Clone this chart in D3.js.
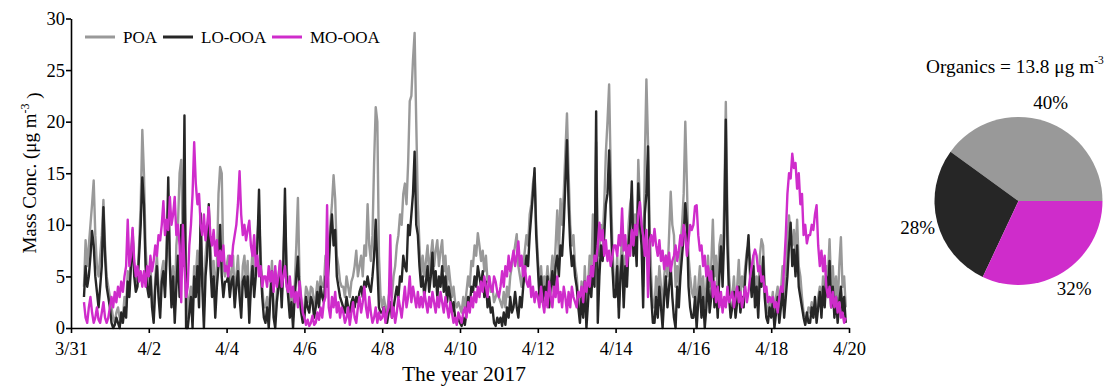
<!DOCTYPE html>
<html>
<head>
<meta charset="utf-8">
<script src="https://cdn.jsdelivr.net/npm/d3@7/dist/d3.min.js"></script>
<style>
  html, body { margin: 0; padding: 0; background: #fff; }
  svg, svg text { font-family: "Liberation Serif", "DejaVu Serif", "Times New Roman", Times, serif !important; }
</style>
</head>
<body>
<svg id="chart" width="1110" height="386"></svg>
<script>
// ---------------- DATA ----------------
// hourly samples starting 2017-03-31 08:00
const startTime = "2017-03-31T08:00:00Z";
const seriesNames = ["POA", "LO-OOA", "MO-OOA"];
const POA = [
  4, 8.5, 6, 8, 10, 12, 14.3, 9, 6, 5, 7, 9, 12.4, 8, 5, 4,
  3, 2, 1, 0.5, 1.5, 2, 1, 0.5, 1, 3, 2, 5.5, 4, 7, 9.5, 6, 4.5, 5, 8, 12, 19.2, 15, 8, 5,
  4, 6, 3, 1, 5, 7, 4, 2, 5.5, 6.5, 4, 8, 12, 7, 3, 6, 1.5, 8, 10, 15, 16.3, 8, 14, 5,
  1, 3, 4, 2, 6, 5, 7.5, 4, 10, 6, 2, 7, 9, 11, 8, 5, 6.5, 3, 6, 13, 15.6, 15, 6, 5,
  6, 7, 4, 5.5, 7, 3, 5, 7, 4, 2, 6, 7, 4, 6.5, 1.5, 5, 7.5, 4, 6, 9, 11, 7, 4, 2,
  2, 3, 1, 4, 6.5, 2, 1, 3.5, 5, 6.5, 3, 7, 11, 6, 4, 2, 3.5, 1, 4, 8, 12.6, 5, 2.5, 1.5,
  2, 4, 3.5, 2.5, 4, 3.8, 2, 3, 4.5, 3, 5, 4, 4, 7, 6, 8, 10, 12, 14.8, 12.5, 7, 6, 4.5, 4,
  4, 3, 5, 4, 3, 4.5, 5, 6, 7.5, 5, 6, 7, 5, 8, 7, 12, 8, 6.5, 9, 16, 21.4, 20, 7, 3,
  2, 3, 2, 1.5, 3, 4, 3, 5, 6, 8, 9, 11, 10, 13, 14, 12, 16, 22, 22.5, 26, 28.6, 20, 12, 8,
  5, 7, 5, 6.5, 8, 5, 7, 8.5, 6, 7.5, 8.5, 6, 7.5, 8.5, 5.5, 7, 4, 6, 4.5, 3, 4, 2.5, 2, 2.5,
  2, 1.5, 3, 2, 3.5, 5, 4, 6.5, 6, 8, 7, 9.2, 8, 6.5, 7.5, 5.5, 7, 4.5, 5, 3.5, 4, 2.5, 3, 3.5,
  3, 2.5, 2, 3.5, 2, 4, 3, 5, 6, 7, 8, 9.1, 6, 5, 4, 6, 7.5, 9, 8, 11, 12, 14, 15, 10,
  7, 4, 6, 3.5, 5, 4, 6, 3, 5, 7, 5, 8, 11.4, 7, 12.5, 10, 13, 17, 20.8, 15, 10, 8, 9, 6,
  5, 3, 1.5, 4.5, 2, 6, 1.5, 4, 7, 5, 11, 6, 18, 9, 7, 10, 8.5, 12, 17, 20, 23.6, 15, 8, 4.5,
  4, 7, 2, 6, 9, 3, 7, 5, 10, 12, 13, 9, 11, 8, 16.3, 12, 10, 4, 16, 24.1, 18, 10, 5, 2,
  2, 5, 3, 6, 4, 2, 5, 7, 5, 9, 13.2, 10, 9, 4, 6, 4, 8, 10, 13, 20, 14, 7, 5, 3.5,
  3, 5, 2, 4, 6, 3, 5, 2, 4, 7, 4, 6, 10.5, 5, 7, 3, 8, 9, 6, 12, 21.9, 11, 5, 3,
  3, 5, 2, 4, 6.6, 3, 5, 4, 6, 7.5, 8, 6.5, 4, 7, 3, 5, 2.5, 7, 8.6, 8, 4, 2, 1.5, 3,
  2, 3.5, 1, 3, 4, 2, 3.5, 6, 3, 5, 8.7, 10.9, 9, 8, 9.5, 7, 10.5, 6, 5, 3, 1.5, 0.4, 1, 2,
  1.5, 2.5, 1, 2, 1.5, 3, 4, 2, 5, 3, 6, 5, 8.6, 4, 6, 3, 5, 2, 6, 8.8, 4, 5, 2
];
const LO_OOA = [
  3, 6, 4, 5, 7, 9.4, 8, 5, 3.5, 2, 4, 6, 11.7, 7, 4, 3,
  2, 0.5, 0, 0.3, 1, 0.5, 0, 1.5, 0.5, 2, 1, 4.5, 3, 6, 9, 5, 3.5, 4, 7, 10, 14.6, 12, 6, 4,
  3, 5, 2, 0.5, 4, 6, 3, 1, 4.5, 5.5, 3, 7, 14.6, 6, 2, 5, 0.5, 4, 7, 3, 10, 6, 20.6, 0,
  0, 1.5, 3, 0, 5, 3, 6, 2, 11.1, 4, 0, 5, 7, 12, 6, 3, 5, 1, 4, 6, 10, 5, 3, 4.5,
  4.5, 5, 3, 4.5, 5, 2, 4, 5.5, 3, 1, 4.5, 5, 3, 5, 0.5, 4, 6, 3, 5, 8, 13.4, 6, 3, 1,
  0.5, 2, 0, 3, 5.5, 1, 0, 2.5, 4, 5.5, 2, 6, 13.5, 5, 3, 1, 2.5, 0, 3, 5, 6.9, 3, 1.5, 0.5,
  1, 3, 2, 1.5, 3, 2.5, 1, 2, 3.5, 2, 4, 3, 2.5, 5, 4, 6, 9, 11, 8, 9.5, 5, 4, 3, 2.5,
  2, 1.5, 3, 2, 1.5, 2.5, 3, 2, 3, 2.5, 3.5, 4, 3, 4.5, 4, 5, 4, 3.5, 5, 7, 10.5, 6, 2, 1.5,
  1.5, 2, 1, 0.5, 1.5, 2.5, 1, 2, 3, 4, 3, 5, 4.5, 7, 6, 5.5, 10, 9, 11, 13, 17.1, 10, 9, 6,
  4, 5, 3, 4.5, 6, 3.5, 5, 7.3, 4, 5.5, 3, 5, 4, 6, 3.5, 5, 2.5, 4, 3, 1.5, 2.5, 1, 0.5, 1,
  0.5, 0.2, 1, 0.3, 1.5, 3, 2, 4, 3.5, 5, 4, 6, 5, 4, 5.5, 3, 4.5, 2, 3, 1.5, 2, 0.5, 0.2, 1,
  0.5, 1, 0.2, 1.5, 0.3, 2, 1, 3, 1.5, 2, 3.5, 2, 1, 3, 2, 4, 5.5, 7, 6, 9, 11, 13, 15.5, 9,
  6, 3, 5, 2.5, 4, 3, 5, 2, 4, 5.5, 3.5, 6, 7, 5, 8, 7, 10, 14, 18.2, 12, 8, 6, 7, 5,
  4, 2, 0.5, 3, 1, 4.5, 0, 2.5, 5, 3, 6, 4, 21, 0.5, 5, 8, 6.5, 9, 12, 13, 17.2, 11, 6, 3,
  3, 6, 1, 5, 7, 2, 6, 4, 8, 10, 14.2, 7, 9, 6, 14, 10, 8, 2, 11, 13, 17.6, 6, 3, 0.5,
  0.5, 3, 1, 4, 2, 0, 3, 5, 2, 4, 6, 3, 1, 0, 4, 2, 5, 7, 9, 12.1, 10, 4, 2, 1,
  1, 3, 0, 2.5, 4, 1, 3, 0, 2, 5, 1.5, 3, 6, 2, 4, 1, 5, 7.9, 4, 9, 20.2, 8, 3, 1,
  2, 3.5, 1, 2.5, 4, 1.5, 3, 2, 5, 7, 9, 5, 3, 6, 2, 4, 1, 5, 4, 6.9, 3, 1, 0.5, 2,
  1, 2.5, 0, 1.5, 3, 0.5, 2, 4, 1, 3, 5, 8, 10.2, 6, 7.6, 5, 8, 4, 3, 2, 1, 0.3, 1.5, 0.5,
  0.5, 2, 1, 3, 0.5, 2, 3.5, 1, 4, 2, 5, 3, 6.5, 2, 4, 1, 3, 0.5, 2.5, 4, 1.5, 3, 0.5
];
const MO_OOA = [
  2.5, 1, 0.5, 2, 3, 1.5, 0.5, 1, 2, 0.8, 0.5, 1.5, 2.5, 1, 0.5, 1,
  2, 3, 2, 3.5, 2.5, 4, 3, 4.5, 3.5, 5, 6, 10.5, 6, 7, 9.7, 6.5, 5, 6, 4.5, 5.5, 4, 5.5, 4, 6,
  5, 7, 5.5, 6.5, 8, 7, 9, 8.5, 10, 12.3, 9, 10.5, 9.5, 12.7, 10, 11, 12.7, 9, 10, 8, 2.5, 10, 6, 3,
  4, 8, 10, 13, 18, 14, 12, 13, 10, 9, 11, 8.5, 10, 11.7, 9, 8, 9.5, 7, 8.5, 6, 7.5, 6.5, 8, 5.5,
  6, 5, 7, 6, 8, 9, 10, 12, 15.2, 11, 9, 10, 8.5, 9.5, 10.4, 8, 7, 9, 6, 7, 5, 6, 4, 5,
  5, 4, 6, 4.5, 5.5, 3.5, 6, 4, 5, 6.5, 4, 5, 6, 4, 3.5, 5, 3, 4, 2.5, 3.5, 2, 4.5, 3, 1.5,
  1, 0.3, 0.8, 0.2, 0.5, 1.2, 0.3, 0.5, 1.5, 0.8, 2, 1, 2.5, 3, 11.9, 2, 1, 3, 2, 3.5, 1.5, 2.5, 1, 2,
  1.5, 0.5, 1, 2, 0.3, 1.5, 2.5, 1, 0.5, 2, 3, 1.5, 2.5, 4, 2, 1, 3, 1.5, 0.5, 1, 2, 0.5, 1.5, 0.8,
  1, 2, 0.5, 1.5, 2, 9, 1, 2, 0.5, 1.5, 3, 2, 1, 2.5, 4, 2, 3, 5, 2.5, 4, 3, 2, 3.5, 2,
  3, 2, 3.5, 2.5, 1.5, 3, 2, 3.5, 2.5, 1.5, 3, 2, 3.5, 2.5, 1.5, 3, 2, 1, 2.5, 1.5, 0.5, 1, 0.3, 1.5,
  1, 0.5, 1.5, 2, 1, 2.5, 1.5, 3, 2, 3.5, 2.5, 4, 3, 4.5, 3.5, 5, 4, 3, 5, 4, 3.5, 5, 4.5, 3.5,
  3, 4, 5.5, 4, 6, 5, 7, 5.5, 6.5, 7.5, 6, 7, 8.4, 6, 7, 5, 6, 4.5, 4, 5, 3, 4, 2.5, 3.5,
  3, 2, 4, 2.5, 1.5, 3.5, 2, 4.5, 3, 2, 4, 3, 5, 2.5, 3.5, 2, 4, 3, 1.5, 3.5, 2, 4, 3, 2.5,
  2, 3.5, 3, 4, 2.5, 4.5, 3.5, 5, 4, 6, 5, 7, 6.5, 8, 10.2, 8.5, 9.5, 7, 8.5, 6.5, 7.5, 6, 7, 8,
  8, 7, 9, 8, 11.6, 7.5, 9, 6, 8, 7, 9.5, 8, 10, 9, 11, 12.2, 10, 9, 7, 9.5, 3, 8.5, 9, 8,
  9.6, 8, 7, 8.5, 6.5, 7.5, 5.7, 7, 6, 7.3, 5.5, 6.5, 7, 8, 6.5, 7.5, 9, 8, 10, 9, 7, 8.5, 10, 9.5,
  10, 11.8, 11.9, 9, 7.5, 8, 6, 7, 5, 6, 4.6, 5.5, 3, 4.5, 2.5, 4, 2, 3.5, 1.5, 3, 2, 4, 2.5, 3,
  3.5, 2, 3, 4, 2.5, 3.5, 2, 3, 4, 2.5, 3.5, 5, 6, 7, 7.6, 7, 5.5, 6, 4.5, 5, 3.5, 4, 2.5, 3,
  2.5, 3, 2, 2.5, 1.5, 3, 4, 3.5, 6, 9, 13, 15, 14.5, 16.9, 15.5, 16, 13.5, 15, 12, 13, 9, 10, 8.2, 9,
  9, 10, 9.5, 11, 11.9, 8, 6, 7.5, 5.5, 7, 4, 3, 4, 2, 3.5, 2, 3, 1.5, 2.5, 1, 1.5, 0.5, 1
];
const xDomain = ["2017-03-31T00:00:00Z", "2017-04-20T00:00:00Z"];
const xTickDates = ["2017-03-31", "2017-04-02", "2017-04-04", "2017-04-06", "2017-04-08", "2017-04-10",
                    "2017-04-12", "2017-04-14", "2017-04-16", "2017-04-18", "2017-04-20"];
const xTickLabels = ["3/31", "4/2", "4/4", "4/6", "4/8", "4/10", "4/12", "4/14", "4/16", "4/18", "4/20"];
const yTicks = [0, 5, 10, 15, 20, 25, 30];
const pieNames = ["POA", "LO-OOA", "MO-OOA"];
const pieValues = [40, 28, 32];
const pieLabels = ["40%", "28%", "32%"];
const organicsTotal = 13.8;

// ---------------- DRAW ----------------
const FONT = "'Liberation Serif', 'DejaVu Serif', serif";
const colors = { "POA": "#999999", "LO-OOA": "#262626", "MO-OOA": "#cf2ccb" };
const svg = d3.select("#chart").attr("font-family", FONT);

const x = d3.scaleUtc().domain(xDomain.map(d => new Date(d))).range([71, 849]);
const y = d3.scaleLinear().domain([0, 30]).range([328, 18.5]);

const t0 = new Date(startTime).getTime();
const timeAt = i => new Date(t0 + i * 3600e3);
const seriesData = { "POA": POA, "LO-OOA": LO_OOA, "MO-OOA": MO_OOA };

const line = d3.line()
  .x((d, i) => x(timeAt(i)))
  .y(d => y(d));

seriesNames.forEach(name => {
  svg.append("path")
    .datum(seriesData[name])
    .attr("fill", "none")
    .attr("stroke", colors[name])
    .attr("stroke-width", 2.4)
    .attr("stroke-linejoin", "round")
    .attr("d", line);
});

// axes
const fontSize = 18.5;
const xAxis = d3.axisBottom(x)
  .tickValues(xTickDates.map(d => new Date(d + "T00:00:00Z")))
  .tickFormat((d, i) => xTickLabels[i])
  .tickSize(5)
  .tickSizeOuter(0);
const gx = svg.append("g").attr("transform", "translate(0,328)").call(xAxis);
gx.attr("font-family", FONT);
gx.select(".domain").attr("stroke", "#000").attr("stroke-width", 1.6);
gx.selectAll(".tick line").attr("stroke", "#000").attr("stroke-width", 1.6);
gx.selectAll(".tick text").attr("font-size", fontSize).attr("font-family", FONT).attr("fill", "#000").attr("dy", "1.05em");

const yAxis = d3.axisLeft(y).tickValues(yTicks).tickSize(5).tickSizeOuter(0);
const gy = svg.append("g").attr("transform", "translate(71,0)").call(yAxis);
gy.attr("font-family", FONT);
gy.select(".domain").attr("stroke", "#000").attr("stroke-width", 1.6);
gy.selectAll(".tick line").attr("stroke", "#000").attr("stroke-width", 1.6);
gy.selectAll(".tick text").attr("font-size", fontSize).attr("font-family", FONT).attr("fill", "#000").attr("x", -6);

// axis titles
svg.append("text")
  .attr("x", 464).attr("y", 381)
  .attr("text-anchor", "middle")
  .attr("font-family", FONT)
  .attr("font-size", 21.5)
  .text("The year 2017");

const yl = svg.append("text")
  .attr("transform", "translate(36,173) rotate(-90)")
  .attr("text-anchor", "middle")
  .attr("font-family", FONT)
  .attr("font-size", 19);
yl.append("tspan").text("Mass Conc. (\u03bcg m");
yl.append("tspan").attr("dy", "-0.6em").attr("font-size", 12).text("-3");
yl.append("tspan").attr("dy", "0.6em").text(" )");

// legend
const legendItems = [
  { name: "POA", x1: 85, tx: 123 },
  { name: "LO-OOA", x1: 163, tx: 201 },
  { name: "MO-OOA", x1: 272, tx: 310 }
];
legendItems.forEach(it => {
  svg.append("line").attr("x1", it.x1).attr("x2", it.x1 + 30)
    .attr("y1", 37).attr("y2", 37)
    .attr("stroke", colors[it.name]).attr("stroke-width", 3);
  svg.append("text").attr("x", it.tx).attr("y", 43)
    .attr("font-family", FONT)
    .attr("font-size", 17).text(it.name);
});

// pie
const cx = 1018.5, cy = 201, r = 84;
const pie = d3.pie().sort(null).startAngle(Math.PI / 2).endAngle(Math.PI / 2 - 2 * Math.PI);
const arcs = pie(pieValues);
const arc = d3.arc().innerRadius(0).outerRadius(r);
const labelArc = d3.arc().innerRadius(104).outerRadius(104);
const gp = svg.append("g").attr("transform", `translate(${cx},${cy})`);
gp.selectAll("path").data(arcs).join("path")
  .attr("d", arc)
  .attr("fill", (d, i) => colors[pieNames[i]]);
gp.selectAll("text").data(arcs).join("text")
  .attr("transform", d => `translate(${labelArc.centroid(d)})`)
  .attr("text-anchor", "middle")
  .attr("dy", "0.35em")
  .attr("font-family", FONT)
  .attr("font-size", 19)
  .text((d, i) => pieLabels[i]);

const pt = svg.append("text").attr("x", 926).attr("y", 73).attr("font-family", FONT).attr("font-size", 19.3);
pt.append("tspan").text(`Organics = ${organicsTotal} \u03bcg m`);
pt.append("tspan").attr("dy", "-0.75em").attr("font-size", 11.5).text("-3");
</script>
</body>
</html>
